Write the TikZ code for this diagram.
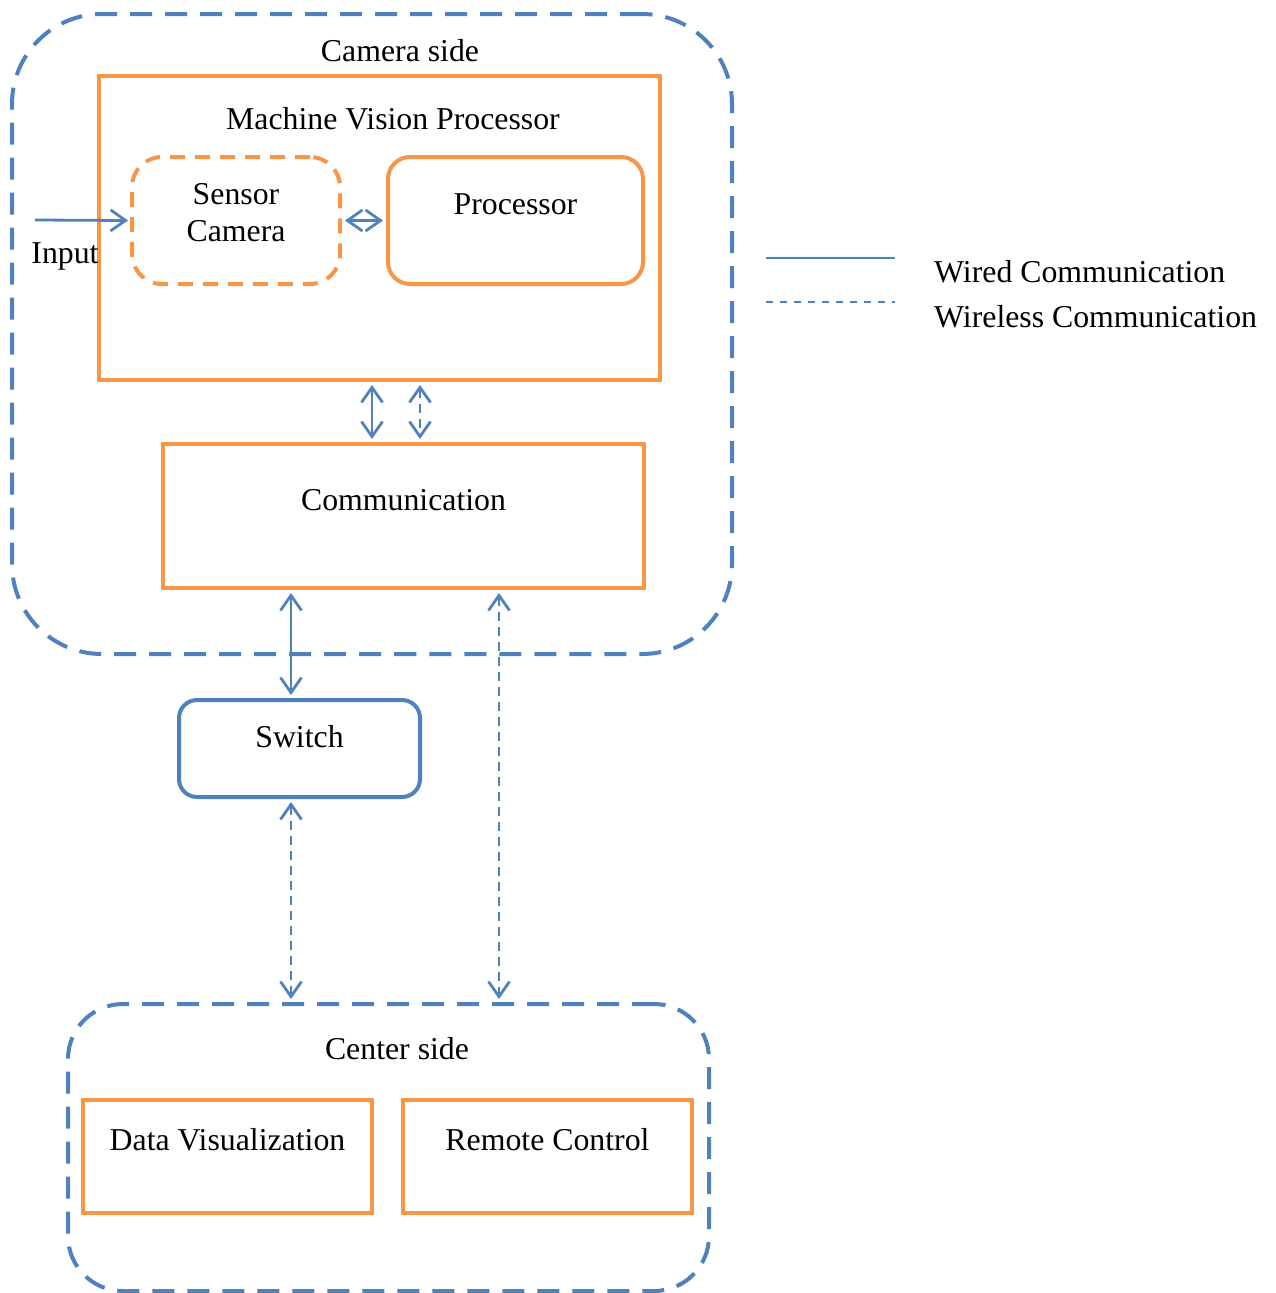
\documentclass[tikz,border=0pt]{standalone}
\usepackage{fontspec}
\setmainfont{Liberation Serif}
\usetikzlibrary{arrows.meta,calc}
\definecolor{oblue}{HTML}{4F81BD}
\definecolor{oorange}{HTML}{F79646}
\tikzset{
  region/.style={draw=oblue, line width=4pt, dash pattern=on 22pt off 13pt, inner sep=0pt},
  obox/.style={draw=oorange, line width=4pt, inner sep=0pt},
  bbox/.style={draw=oblue, line width=4pt, inner sep=0pt},
  lbl/.style={anchor=base, inner sep=0pt, font=\fontsize{31.8}{38}\selectfont},
  wired/.style={draw=oblue, line width=2.8pt},
  wireless/.style={draw=oblue, line width=2.8pt, dash pattern=on 9pt off 6pt},
  >={Straight Barb[length=15pt,width=21pt]}
}
\begin{document}
\begin{tikzpicture}[x=1pt,y=-1pt]
\useasboundingbox (0,0) rectangle (1275,1293);
% regions
\node[region, rounded corners=90pt, minimum width=720pt, minimum height=640pt] (cam) at (372,334) {};
\node[region, rounded corners=55pt, minimum width=641pt, minimum height=287pt] (cen) at (388.5,1147.5) {};
\node[lbl] (camt) at (400,61) {Camera side};
\node[lbl] (cent) at (397,1059) {Center side};
% machine vision processor
\node[obox, minimum width=561pt, minimum height=304pt] (mvp) at (379.5,228) {};
\node[lbl] (mvpt) at (393,129) {Machine Vision Processor};
\node[obox, rounded corners=30pt, dash pattern=on 15pt off 10pt, minimum width=208pt, minimum height=127pt] (sen) at (236,220.5) {};
\node[lbl] (sent1) at (236,204) {Sensor};
\node[lbl] (sent2) at (236,241) {Camera};
\node[obox, rounded corners=22pt, minimum width=255pt, minimum height=127pt] (proc) at (515.5,220.5) {};
\node[lbl] (proct) at (515.5,214) {Processor};
% communication
\node[obox, minimum width=481pt, minimum height=144pt] (comm) at (403.5,516) {};
\node[lbl] (commt) at (403.5,510) {Communication};
% switch
\node[bbox, rounded corners=18pt, minimum width=241pt, minimum height=97pt] (sw) at (299.5,748.5) {};
\node[lbl] (swt) at (299.5,747) {Switch};
% center boxes
\node[obox, minimum width=289pt, minimum height=113pt] (dv) at (227.5,1156.5) {};
\node[lbl] (dvt) at (227.5,1150) {Data Visualization};
\node[obox, minimum width=289pt, minimum height=113pt] (rc) at (547.5,1156.5) {};
\node[lbl] (rct) at (547.5,1150) {Remote Control};
% input
\coordinate (in) at (35,220);
\node[lbl] (int) at (65,263) {Input};
\draw[wired, ->, shorten >=2pt] (in) -- (sen.west);
% arrows
\draw[wired, <->, shorten <=3pt, shorten >=3pt] (sen.east) -- (proc.west);
\draw[wired, <->, shorten <=3pt, shorten >=3pt] (372,0 |- mvp.south) -- (372,0 |- comm.north);
\draw[wireless, <->, shorten <=3pt, shorten >=3pt] (420,0 |- mvp.south) -- (420,0 |- comm.north);
\draw[wired, <->, shorten <=3pt, shorten >=3pt] (291,0 |- comm.south) -- (291,0 |- sw.north);
\draw[wireless, <->, shorten <=3pt, shorten >=3pt] (291,0 |- sw.south) -- (291,0 |- cen.north);
\draw[wireless, <->, shorten <=3pt, shorten >=3pt] (499,0 |- comm.south) -- (499,0 |- cen.north);
% legend
\coordinate (l1a) at (766,258); \coordinate (l1b) at (895,258);
\coordinate (l2a) at (766,302); \coordinate (l2b) at (895,302);
\draw[draw=oblue, line width=2pt] (l1a) -- (l1b);
\draw[draw=oblue, line width=2pt, dash pattern=on 7pt off 7pt] (l2a) -- (l2b);
\node[lbl, anchor=base west] (lt1) at (934,282) {Wired Communication};
\node[lbl, anchor=base west] (lt2) at (934,327) {Wireless Communication};
\end{tikzpicture}
\end{document}
